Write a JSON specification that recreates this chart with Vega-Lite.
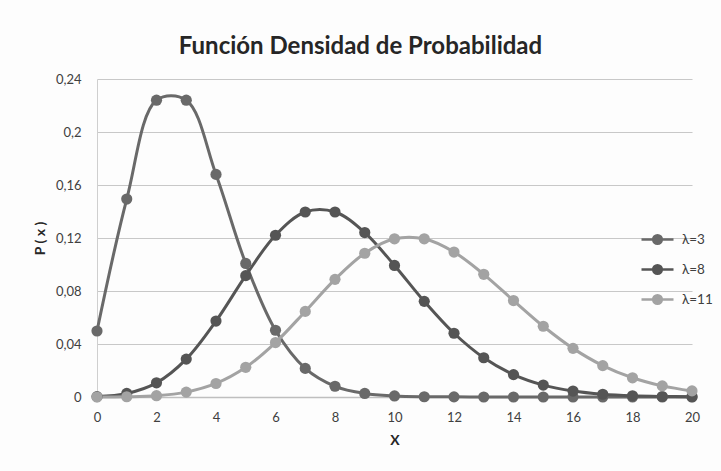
{
  "$schema": "https://vega.github.io/schema/vega-lite/v6.json",
  "autosize": "none",
  "width": 595,
  "height": 318,
  "padding": {"left": 97, "top": 79, "right": 29, "bottom": 74},
  "background": "#fdfdfd",
  "title": {
    "text": "Función Densidad de Probabilidad",
    "font": "Lato",
    "fontSize": 24,
    "fontWeight": "bold",
    "color": "#262626",
    "anchor": "middle",
    "frame": "group",
    "dx": -34,
    "offset": 14
  },
  "data": {
    "values": [
      {"x": 0, "s": "λ=3", "p": 0.0498}, {"x": 1, "s": "λ=3", "p": 0.1494}, {"x": 2, "s": "λ=3", "p": 0.2240}, {"x": 3, "s": "λ=3", "p": 0.2240}, {"x": 4, "s": "λ=3", "p": 0.1680}, {"x": 5, "s": "λ=3", "p": 0.1008}, {"x": 6, "s": "λ=3", "p": 0.0504}, {"x": 7, "s": "λ=3", "p": 0.0216}, {"x": 8, "s": "λ=3", "p": 0.0081}, {"x": 9, "s": "λ=3", "p": 0.0027}, {"x": 10, "s": "λ=3", "p": 0.0008}, {"x": 11, "s": "λ=3", "p": 0.0002}, {"x": 12, "s": "λ=3", "p": 0.0001}, {"x": 13, "s": "λ=3", "p": 0.0}, {"x": 14, "s": "λ=3", "p": 0.0}, {"x": 15, "s": "λ=3", "p": 0.0}, {"x": 16, "s": "λ=3", "p": 0.0}, {"x": 17, "s": "λ=3", "p": 0.0}, {"x": 18, "s": "λ=3", "p": 0.0}, {"x": 19, "s": "λ=3", "p": 0.0}, {"x": 20, "s": "λ=3", "p": 0.0},
      {"x": 0, "s": "λ=8", "p": 0.0003}, {"x": 1, "s": "λ=8", "p": 0.0027}, {"x": 2, "s": "λ=8", "p": 0.0107}, {"x": 3, "s": "λ=8", "p": 0.0286}, {"x": 4, "s": "λ=8", "p": 0.0573}, {"x": 5, "s": "λ=8", "p": 0.0916}, {"x": 6, "s": "λ=8", "p": 0.1221}, {"x": 7, "s": "λ=8", "p": 0.1396}, {"x": 8, "s": "λ=8", "p": 0.1396}, {"x": 9, "s": "λ=8", "p": 0.1241}, {"x": 10, "s": "λ=8", "p": 0.0993}, {"x": 11, "s": "λ=8", "p": 0.0722}, {"x": 12, "s": "λ=8", "p": 0.0481}, {"x": 13, "s": "λ=8", "p": 0.0296}, {"x": 14, "s": "λ=8", "p": 0.0169}, {"x": 15, "s": "λ=8", "p": 0.0090}, {"x": 16, "s": "λ=8", "p": 0.0045}, {"x": 17, "s": "λ=8", "p": 0.0021}, {"x": 18, "s": "λ=8", "p": 0.0009}, {"x": 19, "s": "λ=8", "p": 0.0004}, {"x": 20, "s": "λ=8", "p": 0.0002},
      {"x": 0, "s": "λ=11", "p": 0.0000}, {"x": 1, "s": "λ=11", "p": 0.0002}, {"x": 2, "s": "λ=11", "p": 0.0010}, {"x": 3, "s": "λ=11", "p": 0.0037}, {"x": 4, "s": "λ=11", "p": 0.0102}, {"x": 5, "s": "λ=11", "p": 0.0224}, {"x": 6, "s": "λ=11", "p": 0.0411}, {"x": 7, "s": "λ=11", "p": 0.0646}, {"x": 8, "s": "λ=11", "p": 0.0888}, {"x": 9, "s": "λ=11", "p": 0.1085}, {"x": 10, "s": "λ=11", "p": 0.1194}, {"x": 11, "s": "λ=11", "p": 0.1194}, {"x": 12, "s": "λ=11", "p": 0.1094}, {"x": 13, "s": "λ=11", "p": 0.0926}, {"x": 14, "s": "λ=11", "p": 0.0728}, {"x": 15, "s": "λ=11", "p": 0.0534}, {"x": 16, "s": "λ=11", "p": 0.0367}, {"x": 17, "s": "λ=11", "p": 0.0237}, {"x": 18, "s": "λ=11", "p": 0.0145}, {"x": 19, "s": "λ=11", "p": 0.0084}, {"x": 20, "s": "λ=11", "p": 0.0046}
    ]
  },
  "encoding": {
    "x": {
      "field": "x", "type": "quantitative",
      "scale": {"domain": [0, 20], "nice": false, "zero": false},
      "axis": {
        "title": "X", "values": [0, 2, 4, 6, 8, 10, 12, 14, 16, 18, 20],
        "grid": false, "ticks": false, "labelPadding": 14, "labelFlush": false,
        "domainColor": "#bfbfbf", "domainWidth": 1.5,
        "titlePadding": 9
      }
    },
    "y": {
      "field": "p", "type": "quantitative",
      "scale": {"domain": [0, 0.24], "nice": false},
      "axis": {
        "title": "P ( x )", "values": [0, 0.04, 0.08, 0.12, 0.16, 0.2, 0.24],
        "labelExpr": "replace(format(datum.value, '~g'), '.', ',')",
        "ticks": false, "labelPadding": 16,
        "domain": true, "domainColor": "#cfcfcf", "domainWidth": 1,
        "gridColor": "#c8c8c8", "gridWidth": 1.2,
        "titlePadding": 8
      }
    },
    "color": {
      "field": "s", "type": "nominal",
      "scale": {"domain": ["λ=3", "λ=8", "λ=11"], "range": ["#696969", "#555555", "#a3a3a3"]},
      "sort": ["λ=3", "λ=8", "λ=11"],
      "legend": {
        "title": null, "orient": "none", "legendX": 543, "legendY": 143,
        "symbolType": "M-1,0H1M-0.27,0A0.27,0.27 0 1,0 0.27,0A0.27,0.27 0 1,0 -0.27,0",
        "symbolSize": 1024, "symbolStrokeWidth": 2.5,
        "rowPadding": 3, "labelOffset": 7,
        "labelFont": "Lato", "labelFontSize": 13.5, "labelColor": "#404040",
        "encode": {"symbols": {"update": {"fill": {"scale": "color", "field": "value"}, "stroke": {"scale": "color", "field": "value"}}}}
      }
    },
    "order": {"field": "x", "type": "quantitative"}
  },
  "layer": [
    {"mark": {"type": "line", "interpolate": "catmull-rom", "strokeWidth": 3}},
    {"mark": {"type": "point", "filled": true, "size": 125, "opacity": 1}}
  ],
  "config": {
    "view": {"stroke": null},
    "axis": {
      "labelFont": "Lato", "labelFontSize": 13, "labelColor": "#404040",
      "titleFont": "Lato", "titleFontSize": 14, "titleFontWeight": "bold", "titleColor": "#262626"
    }
  }
}
